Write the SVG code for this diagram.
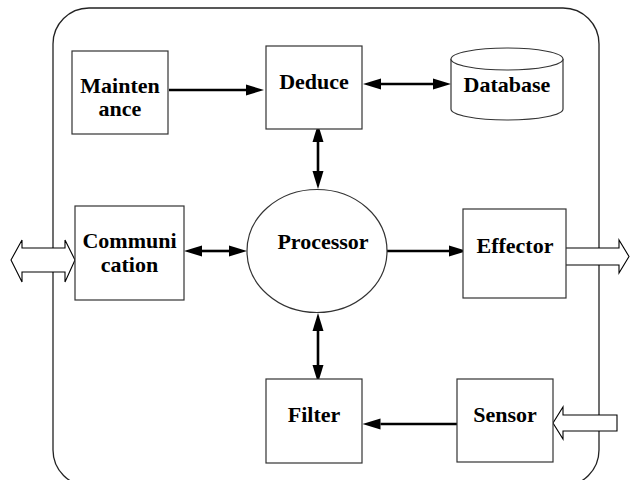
<svg xmlns="http://www.w3.org/2000/svg" width="630" height="480" viewBox="0 0 630 480">
  <style>
    .box { fill: #ffffff; stroke: #333333; stroke-width: 1.2; }
    .frame { fill: none; stroke: #222222; stroke-width: 1.3; }
    .label { font-family: "Liberation Serif", "Times New Roman", serif; font-weight: bold; font-size: 22px; fill: #000000; text-anchor: middle; }
    .link { fill: none; stroke: #000000; stroke-width: 2.6; }
    .port { fill: #ffffff; stroke: #000000; stroke-width: 1.1; stroke-linejoin: miter; }
  </style>
  <defs>
    <marker id="head" markerUnits="userSpaceOnUse" markerWidth="20" markerHeight="12" viewBox="0 -6 20 12" refX="0" refY="0" orient="auto-start-reverse" overflow="visible">
      <path d="M0,-5.5 L18,0 L0,5.5 z" fill="#000000"/>
    </marker>
  </defs>

  <rect fill="#ffffff" x="0" y="0" width="630" height="480"/>

  <!-- system boundary -->
  <rect class="frame" x="53" y="8" width="546" height="478" rx="36" ry="36"/>

  <!-- connectors -->
  <g id="connectors">
    <path class="link" d="M169,90 H246" marker-end="url(#head)"/>
    <path class="link" d="M381,84 H433" marker-start="url(#head)" marker-end="url(#head)"/>
    <path class="link" d="M318,142 V171" marker-start="url(#head)" marker-end="url(#head)"/>
    <path class="link" d="M202,251 H229" marker-start="url(#head)" marker-end="url(#head)"/>
    <path class="link" d="M387,251 H449" marker-end="url(#head)"/>
    <path class="link" d="M318,331 V365" marker-start="url(#head)" marker-end="url(#head)"/>
    <path class="link" d="M457,424 H380.5" marker-end="url(#head)"/>
  </g>

  <!-- external interfaces -->
  <g id="io-ports">
    <path class="port" d="M11,260 L22,240 V248 H65 V240 L75,260 L65,282 V272 H22 V282 Z"/>
    <path class="port" d="M566,248 H619 V240 L629,256.5 L619,273 V265 H566"/>
    <path class="port" d="M617,415 H563 V407 L553,423 L563,439 V431 H617 Z"/>
  </g>

  <g id="maintenance">
    <rect class="box" x="72" y="51" width="96" height="83"/>
    <text class="label" x="120" y="93">Mainten</text>
    <text class="label" x="120" y="116">ance</text>
  </g>

  <g id="deduce">
    <rect class="box" x="266" y="46" width="96" height="83"/>
    <text class="label" x="314" y="89">Deduce</text>
  </g>

  <g id="database">
    <path class="box" d="M451,59 V109 A56,11 0 0 0 563,109 V59 A56,11 0 0 0 451,59 Z"/>
    <path class="box" fill="none" d="M451,59 A56,11 0 0 0 563,59"/>
    <text class="label" x="507" y="92">Database</text>
  </g>

  <g id="communication">
    <rect class="box" x="75" y="206" width="109" height="94"/>
    <text class="label" x="129.5" y="248">Communi</text>
    <text class="label" x="129.5" y="272">cation</text>
  </g>

  <g id="processor">
    <ellipse class="box" cx="317" cy="251" rx="70" ry="61.5"/>
    <text class="label" x="323" y="249">Processor</text>
  </g>

  <g id="effector">
    <rect class="box" x="463" y="209" width="103" height="89"/>
    <text class="label" x="515" y="253">Effector</text>
  </g>

  <g id="filter">
    <rect class="box" x="266" y="379" width="96" height="84"/>
    <text class="label" x="314" y="422">Filter</text>
  </g>

  <g id="sensor">
    <rect class="box" x="457" y="379" width="96" height="83"/>
    <text class="label" x="505" y="422">Sensor</text>
  </g>
</svg>
